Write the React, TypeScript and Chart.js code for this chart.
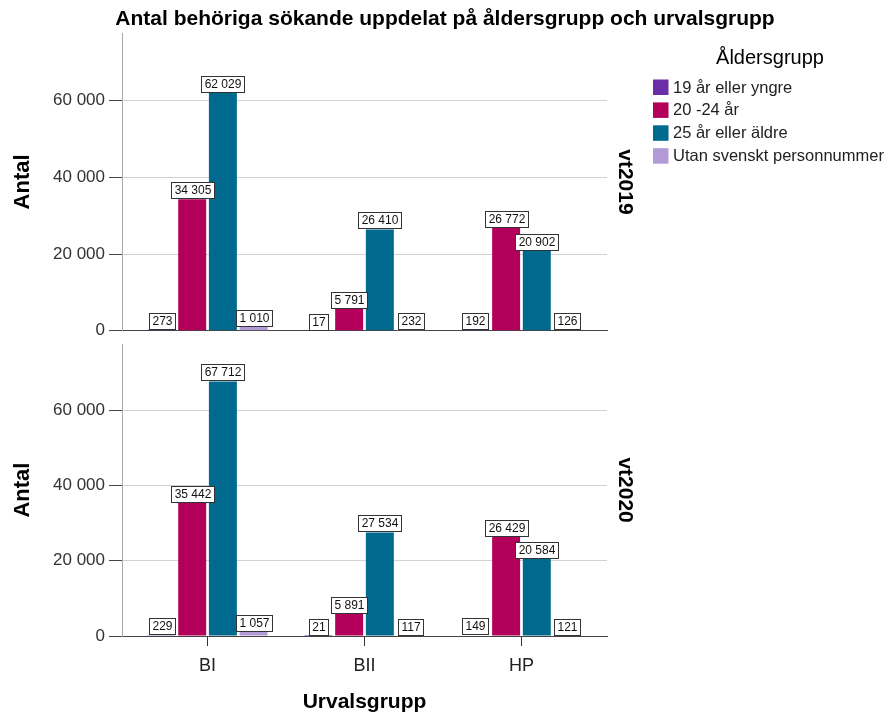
import React, { useEffect, useRef } from 'react';
import { Chart, registerables } from 'chart.js';

Chart.register(...registerables);

const FONT = "'Liberation Sans', Arial, sans-serif";

const chartTitle = 'Antal behöriga sökande uppdelat på åldersgrupp och urvalsgrupp';
const legendTitle = 'Åldersgrupp';
const yTitle = 'Antal';
const xTitle = 'Urvalsgrupp';

const categories = ['BI', 'BII', 'HP'];
const seriesNames = ['19 år eller yngre', '20 -24 år', '25 år eller äldre', 'Utan svenskt personnummer'];
const seriesColors = ['#6a2fa8', '#b3005b', '#006a8e', '#b29ad6'];
const panelLabels = ['vt2019', 'vt2020'];

const young2019 = [273, 17, 192];
const mid2019 = [34305, 5791, 26772];
const old2019 = [62029, 26410, 20902];
const utan2019 = [1010, 232, 126];

const young2020 = [229, 21, 149];
const mid2020 = [35442, 5891, 26429];
const old2020 = [67712, 27534, 20584];
const utan2020 = [1057, 117, 121];

const yTicks = [0, 20000, 40000, 60000];
const yMax = 77600;

const fmt = (v: number) => String(Math.round(v)).replace(/\B(?=(\d{3})+(?!\d))/g, ' ');

const boxLabels = {
  id: 'boxLabels',
  afterDatasetsDraw(chart: any) {
    const ctx = chart.ctx;
    ctx.save();
    ctx.font = `12px ${FONT}`;
    ctx.textAlign = 'center';
    ctx.textBaseline = 'middle';
    chart.data.datasets.forEach((ds: any, di: number) => {
      const meta = chart.getDatasetMeta(di);
      meta.data.forEach((el: any, i: number) => {
        const txt = fmt(ds.data[i].y);
        const w = Math.round(ctx.measureText(txt).width + 6);
        const h = 16;
        const left = Math.round(el.x - w / 2) + 0.5;
        const top = Math.round(el.y - 1 - h) + 0.5;
        ctx.fillStyle = '#ffffff';
        ctx.fillRect(left, top, w, h);
        ctx.strokeStyle = '#333333';
        ctx.lineWidth = 1;
        ctx.strokeRect(left, top, w, h);
        ctx.fillStyle = '#111111';
        ctx.fillText(txt, left + w / 2, top + h / 2 + 0.5);
      });
    });
    ctx.restore();
  },
};

const makePanelLabel = (label: string) => ({
  id: 'panelLabel',
  afterDraw(chart: any) {
    const { ctx, chartArea } = chart;
    ctx.save();
    ctx.translate(chartArea.right + 18, (chartArea.top + chartArea.bottom) / 2);
    ctx.rotate(Math.PI / 2);
    ctx.font = `bold 21px ${FONT}`;
    ctx.fillStyle = '#000';
    ctx.textAlign = 'center';
    ctx.textBaseline = 'middle';
    ctx.fillText(label, 0, 0);
    ctx.restore();
  },
});

const titleLegend = {
  id: 'titleLegend',
  afterDraw(chart: any) {
    const ctx = chart.ctx;
    ctx.save();
    ctx.fillStyle = '#000';
    ctx.textAlign = 'center';
    ctx.textBaseline = 'middle';
    ctx.font = `bold 21px ${FONT}`;
    ctx.fillText(chartTitle, 445, 19);
    ctx.font = `20px ${FONT}`;
    ctx.fillText(legendTitle, 770, 58);
    ctx.textAlign = 'left';
    ctx.font = `16.5px ${FONT}`;
    chart.data.datasets.forEach((ds: any, i: number) => {
      const top = 79.5 + i * 22.9;
      ctx.fillStyle = ds.backgroundColor;
      ctx.fillRect(653, top, 15.5, 15.5);
      ctx.fillStyle = '#222';
      ctx.fillText(ds.label, 673, top + 8.5);
    });
    ctx.restore();
  },
};

function makeConfig(series: number[][], panel: number, bottom: boolean): any {
  const datasets = series.map((arr, si) => ({
    label: seriesNames[si],
    backgroundColor: seriesColors[si],
    borderWidth: 0,
    categoryPercentage: 0.782,
    barPercentage: 0.912,
    data: arr.map((v, i) => ({ x: i, y: v })),
  }));
  return {
    type: 'bar',
    data: { datasets },
    options: {
      responsive: false,
      animation: false,
      devicePixelRatio: 1,
      layout: { padding: { left: 0, right: 286, top: bottom ? 7 : 33, bottom: bottom ? 0 : 14 } },
      plugins: {
        legend: { display: false },
        title: { display: false },
        tooltip: { enabled: false },
      },
      scales: {
        x: {
          type: 'linear',
          min: -0.545,
          max: 2.545,
          offset: false,
          afterBuildTicks: (s: any) => { s.ticks = categories.map((_, i) => ({ value: i })); },
          afterFit: (s: any) => { s.height = bottom ? 79 : 0; },
          ticks: {
            display: bottom,
            includeBounds: false,
            font: { size: 18, family: FONT },
            color: '#222',
            padding: 9,
            callback: (v: number) => categories[v] ?? '',
          },
          grid: { display: bottom, offset: false, drawOnChartArea: false, drawTicks: bottom, tickLength: 10, tickColor: '#333', color: '#333' },
          border: { display: true, color: '#444', width: 1 },
          title: {
            display: bottom,
            text: xTitle,
            font: { size: 21, weight: 'bold', family: FONT },
            color: '#000',
            padding: { top: 0, bottom: 0 },
          },
        },
        y: {
          min: 0,
          max: yMax,
          afterBuildTicks: (s: any) => { s.ticks = yTicks.map((v) => ({ value: v })); },
          afterFit: (s: any) => { s.width = 122; },
          ticks: {
            includeBounds: false,
            font: { size: 17, family: FONT },
            color: '#333',
            padding: 4,
            callback: (v: number) => fmt(v),
          },
          grid: {
            color: (c: any) => (c.tick && c.tick.value === 0 ? 'rgba(0,0,0,0)' : '#d2d2d2'),
            tickColor: '#444',
            tickLength: 13,
            drawTicks: true,
          },
          border: { display: true, color: '#a8a8a8', width: 1 },
          title: {
            display: true,
            text: yTitle,
            font: { size: 22, weight: 'bold', family: FONT },
            color: '#000',
            padding: { top: 10, bottom: 0 },
          },
        },
      },
    },
    plugins: bottom ? [boxLabels, makePanelLabel(panelLabels[panel])] : [boxLabels, makePanelLabel(panelLabels[panel]), titleLegend],
  };
}

export default function App() {
  const topRef = useRef<HTMLCanvasElement>(null);
  const botRef = useRef<HTMLCanvasElement>(null);
  useEffect(() => {
    const c1 = new Chart(topRef.current as HTMLCanvasElement, makeConfig([young2019, mid2019, old2019, utan2019], 0, false));
    const c2 = new Chart(botRef.current as HTMLCanvasElement, makeConfig([young2020, mid2020, old2020, utan2020], 1, true));
    return () => {
      c1.destroy();
      c2.destroy();
    };
  }, []);
  return (
    <div style={{ position: 'absolute', left: 0, top: 0, width: 893, height: 715, background: '#fff' }}>
      <canvas ref={topRef} width={893} height={345} style={{ position: 'absolute', left: 0, top: 0 }} />
      <canvas ref={botRef} width={893} height={385} style={{ position: 'absolute', left: 0, top: 330 }} />
    </div>
  );
}
